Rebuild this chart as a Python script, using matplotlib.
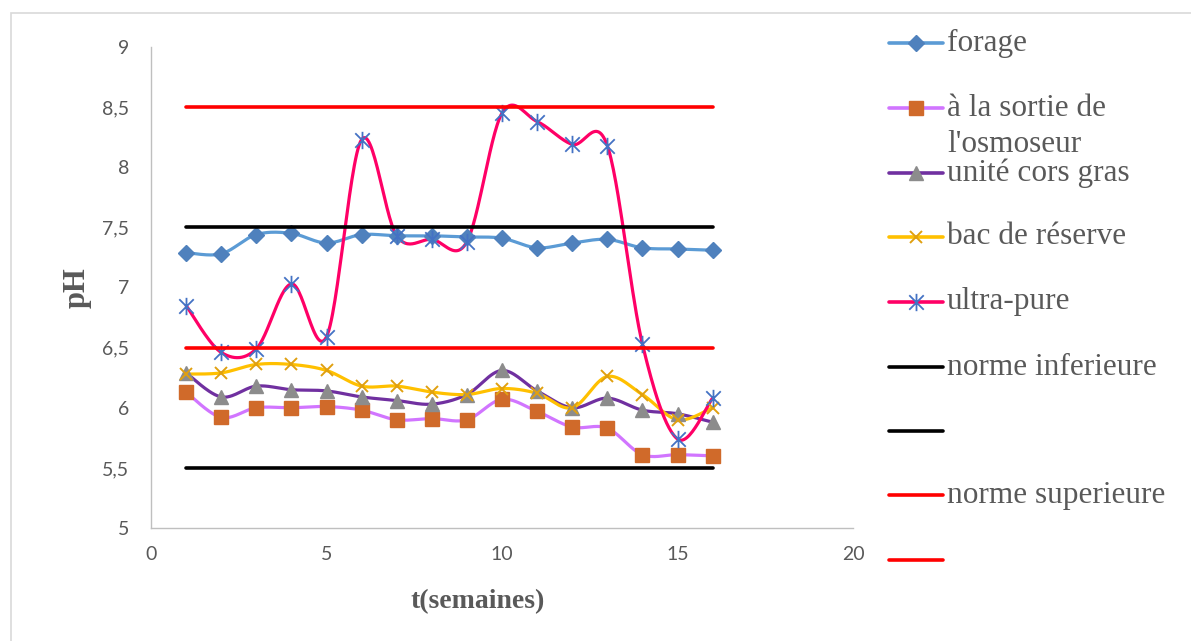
import numpy as np
import matplotlib
matplotlib.use("Agg")
import matplotlib.pyplot as plt
from matplotlib.lines import Line2D
from matplotlib.patches import Rectangle
from matplotlib.path import Path
from matplotlib.ticker import FuncFormatter

# ---------------- data ----------------
weeks = list(range(1, 17))
forage = [7.29, 7.28, 7.44, 7.45, 7.37, 7.44, 7.43, 7.43, 7.42, 7.41, 7.33, 7.37, 7.40, 7.33, 7.32, 7.31]
osmoseur = [6.13, 5.92, 6.00, 6.00, 6.01, 5.98, 5.90, 5.91, 5.90, 6.07, 5.97, 5.84, 5.83, 5.61, 5.61, 5.60]
cors_gras = [6.29, 6.09, 6.18, 6.15, 6.14, 6.09, 6.06, 6.03, 6.11, 6.31, 6.14, 6.00, 6.08, 5.98, 5.95, 5.88]
bac_reserve = [6.28, 6.29, 6.36, 6.36, 6.31, 6.18, 6.18, 6.13, 6.11, 6.16, 6.12, 6.00, 6.26, 6.11, 5.90, 6.00]
ultra_pure = [6.85, 6.46, 6.49, 7.03, 6.59, 8.23, 7.43, 7.40, 7.38, 8.45, 8.38, 8.19, 8.18, 6.53, 5.74, 6.08]
norme_inf = [5.5] * 16
norme_inf2 = [7.5] * 16
norme_sup = [6.5] * 16
norme_sup2 = [8.5] * 16

labels = ["forage", "à la sortie de\nl'osmoseur", "unité cors gras", "bac de réserve",
          "ultra-pure", "norme inferieure", "", "norme superieure", ""]

W, H = 1191, 641
fig = plt.figure(figsize=(W / 100, H / 100), dpi=100)
fig.patch.set_facecolor("white")

def fx(px):
    return px / W

def fy(py):
    return 1 - py / H

# Excel-style star marker: an X plus a vertical bar
star = Path([(-1, -1), (1, 1), (-1, 1), (1, -1), (0, -1.2), (0, 1.2)],
            [Path.MOVETO, Path.LINETO, Path.MOVETO, Path.LINETO, Path.MOVETO, Path.LINETO])

# outer border (only top/left visible)
fig.patches.append(Rectangle((fx(11), -0.1), 1.2, fy(13) + 0.1, transform=fig.transFigure,
                             fill=False, edgecolor="#D9D9D9", linewidth=1.2))

ax = fig.add_axes([fx(151), fy(528), fx(853) - fx(151), fy(47) - fy(528)])
ax.set_xlim(0, 20)
ax.set_ylim(5, 9)
ax.set_xticks([0, 5, 10, 15, 20])
ax.set_yticks(np.arange(5, 9.01, 0.5))
ax.yaxis.set_major_formatter(FuncFormatter(lambda v, p: ("%g" % v).replace(".", ",")))
for s in ["top", "right"]:
    ax.spines[s].set_visible(False)
for s in ["left", "bottom"]:
    ax.spines[s].set_color("#BFBFBF")
    ax.spines[s].set_linewidth(1.0)
ax.tick_params(length=0, labelsize=14, labelcolor="#595959")
ax.tick_params(axis="y", pad=15.5)
ax.tick_params(axis="x", pad=13)
for lab in ax.get_xticklabels() + ax.get_yticklabels():
    lab.set_fontfamily("Lato")


def smooth(x, y, n=30):
    x = np.asarray(x, float)
    y = np.asarray(y, float)
    P = np.column_stack([x, y])
    Pe = np.vstack([P[0], P, P[-1]])
    out = []
    t = np.linspace(0, 1, n)[:, None]
    for i in range(len(P) - 1):
        p0, p1, p2, p3 = Pe[i], Pe[i + 1], Pe[i + 2], Pe[i + 3]
        c1 = p1 + (p2 - p0) / 6.0
        c2 = p2 - (p3 - p1) / 6.0
        seg = ((1 - t) ** 3) * p1 + 3 * ((1 - t) ** 2) * t * c1 + 3 * (1 - t) * t ** 2 * c2 + t ** 3 * p2
        out.append(seg if i == 0 else seg[1:])
    S = np.vstack(out)
    return S[:, 0], S[:, 1]


series = [
    (forage, "#5B9BD5", "D", "#4F81BD", 8.0, 1.0),
    (osmoseur, "#D175FF", "s", "#D06A2A", 9.5, 1.0),
    (cors_gras, "#7030A0", "^", "#8C8C8C", 10.0, 1.0),
    (bac_reserve, "#FFC000", "x", "#E0A010", 9.0, 1.4),
    (ultra_pure, "#FF0066", star, "#4472C4", 12.5, 1.3),
]

for vals, lc, mk, mc, ms, mew in series:
    sx, sy = smooth(weeks, vals)
    ax.plot(sx, sy, color=lc, lw=2.3, solid_capstyle="round", zorder=2)
    ax.plot(weeks, vals, linestyle="none", marker=mk, markersize=ms,
            markerfacecolor=mc, markeredgecolor=mc, markeredgewidth=mew, zorder=3)

norms = [(norme_inf, "black"), (norme_inf2, "black"), (norme_sup, "#FF0000"), (norme_sup2, "#FF0000")]
for vals, c in norms:
    ax.plot(weeks, vals, color=c, lw=2.6, solid_capstyle="round", zorder=4)

# axis titles
fig.text(fx(478), fy(602), "t(semaines)", family="Liberation Serif", weight="bold",
         fontsize=20, color="#595959", ha="center", va="center")
fig.text(fx(77), fy(288), "pH", family="Liberation Serif", weight="bold",
         fontsize=22, color="#595959", ha="center", va="center", rotation=90)

# legend (manual)
leg_y = [43, 108, 173, 237, 302, 367, 431, 495, 560]
line_gap = 37
handles = [
    ("#5B9BD5", "D", "#4F81BD", 8.0, 1.0),
    ("#D175FF", "s", "#D06A2A", 9.5, 1.0),
    ("#7030A0", "^", "#8C8C8C", 10.0, 1.0),
    ("#FFC000", "x", "#E0A010", 9.0, 1.4),
    ("#FF0066", star, "#4472C4", 12.5, 1.3),
    ("black", None, None, 0, 0),
    ("black", None, None, 0, 0),
    ("#FF0000", None, None, 0, 0),
    ("#FF0000", None, None, 0, 0),
]
for yy, lab, (lc, mk, mc, ms, mew) in zip(leg_y, labels, handles):
    fig.add_artist(Line2D([fx(889), fx(943)], [fy(yy), fy(yy)], transform=fig.transFigure,
                          color=lc, lw=2.6, solid_capstyle="round"))
    if mk is not None:
        fig.add_artist(Line2D([fx(916)], [fy(yy)], transform=fig.transFigure, linestyle="none",
                              marker=mk, markersize=ms, markerfacecolor=mc, markeredgecolor=mc,
                              markeredgewidth=mew))
    for k, part in enumerate(lab.split("\n")):
        if part:
            fig.text(fx(947), fy(yy + k * line_gap), part, family="Liberation Serif", fontsize=22.5,
                     color="#595959", ha="left", va="center")

fig.savefig("out.png", dpi=100, facecolor="white")
